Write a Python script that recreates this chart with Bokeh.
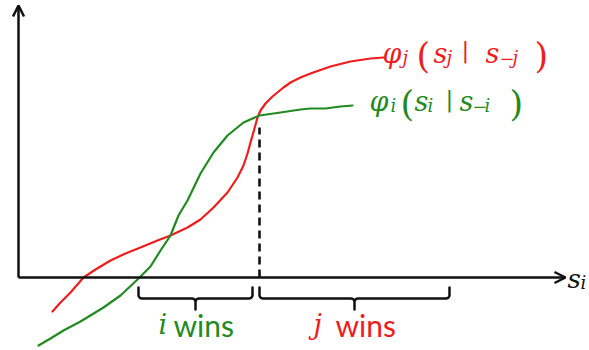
import numpy as np
from bokeh.plotting import figure
from bokeh.models import Range1d, Arrow, OpenHead, ColumnDataSource
from bokeh.embed import file_html
from bokeh.resources import INLINE

# ---- data (diagram units: origin at the axes' corner, y upward) ----
red_x = [34, 42, 52, 65, 77, 92, 107, 122, 139, 152, 169, 182, 195, 209, 219,
         225, 229, 232, 236, 239, 242, 247, 254, 265, 272, 282, 292, 312, 332, 352, 365]
red_y = [-34, -25, -15, 0, 8, 17, 24, 30, 37, 42, 50, 58, 70, 85, 100,
         112, 124, 135, 149, 160, 167, 174, 181, 190, 195, 200, 204, 211, 216, 219, 220]

green_x = [20, 32, 45, 62, 85, 102, 119, 132, 142, 152, 160, 169, 182, 195, 209,
           225, 241, 262, 282, 292, 307, 322, 334]
green_y = [-68, -61, -53, -44, -30, -18, -2, 11, 27, 42, 62, 77, 104, 125, 142,
           155, 162, 165, 168, 169, 169, 171, 172]

s_star = 241          # crossing point of the two curves
s_star_y = 150        # top of the dashed drop line
i_wins = (120, 234)   # range of s_i where i wins
j_wins = (241, 431)   # range of s_i where j wins

RED = "#EE1C1C"
GREEN = "#218A21"
BLACK = "#111111"

p = figure(width=589, height=350, x_range=Range1d(-18, 571), y_range=Range1d(-73, 277),
           output_backend="svg", toolbar_location=None, min_border=0,
           x_axis_type=None, y_axis_type=None)
p.grid.visible = False
p.outline_line_color = None
p.background_fill_color = "white"
p.border_fill_color = "white"

# axes with arrow heads
p.add_layout(Arrow(end=OpenHead(size=11, line_width=2.5, line_color=BLACK),
                   x_start=0, y_start=0, x_end=547, y_end=0,
                   line_width=2.5, line_color=BLACK))
p.add_layout(Arrow(end=OpenHead(size=11, line_width=2.5, line_color=BLACK),
                   x_start=0, y_start=0, x_end=0, y_end=272,
                   line_width=2.5, line_color=BLACK))

# curves
p.line(red_x, red_y, line_width=2.2, line_color=RED, line_join="round", line_cap="round")
p.line(green_x, green_y, line_width=2.2, line_color=GREEN, line_join="round", line_cap="round")

# dashed drop line
p.line([s_star, s_star], [0, s_star_y], line_width=2.6, line_color=BLACK, line_dash="8 5")


def brace(x0, x1, ytop=-10, ybar=-21, ytip=-32, r=3.5):
    xc = (x0 + x1) / 2.0
    xs, ys = [x0], [ytop]
    a = np.linspace(np.pi, 1.5 * np.pi, 6)
    xs += list(x0 + r + r * np.cos(a)); ys += list(ybar + r + r * np.sin(a))
    a = np.linspace(0.5 * np.pi, 0, 6)
    xs += list(xc - r + r * np.cos(a)); ys += list(ybar - r + r * np.sin(a))
    xs += [xc, xc]; ys += [ytip, ybar - r]
    a = np.linspace(np.pi, 0.5 * np.pi, 6)
    xs += list(xc + r + r * np.cos(a)); ys += list(ybar - r + r * np.sin(a))
    a = np.linspace(1.5 * np.pi, 2 * np.pi, 6)
    xs += list(x1 - r + r * np.cos(a)); ys += list(ybar + r + r * np.sin(a))
    xs += [x1]; ys += [ytop]
    return xs, ys


for rng in (i_wins, j_wins):
    bx, by = brace(*rng)
    p.line(bx, by, line_width=2.5, line_color=BLACK, line_join="round", line_cap="round")

# ---- text pieces ----
SERIF = "DejaVu Serif"
SANS = "Lato"
M, S, P, B = "27px", "18px", "35px", "23px"
dy = 9  # baseline correction
pieces = [
    # text, x, y, size, font, style, color
    ("φ", 364, 215, M, SERIF, "italic", RED),
    ("j", 384, 211, S, SERIF, "italic", RED),
    ("(", 398, 213, P, SERIF, "normal", RED),
    ("s", 415, 215, M, SERIF, "italic", RED),
    ("j", 428, 211, S, SERIF, "italic", RED),
    ("|", 443, 219, B, SERIF, "normal", RED),
    ("s", 467, 215, M, SERIF, "italic", RED),
    ("−", 481, 211, S, SERIF, "normal", RED),
    ("j", 494, 211, S, SERIF, "italic", RED),
    (")", 516, 213, P, SERIF, "normal", RED),

    ("φ", 351, 167, M, SERIF, "italic", GREEN),
    ("i", 372, 163, S, SERIF, "italic", GREEN),
    ("(", 382, 165, P, SERIF, "normal", GREEN),
    ("s", 396, 167, M, SERIF, "italic", GREEN),
    ("i", 409, 163, S, SERIF, "italic", GREEN),
    ("|", 427, 170, B, SERIF, "normal", GREEN),
    ("s", 441, 167, M, SERIF, "italic", GREEN),
    ("−", 454, 163, S, SERIF, "normal", GREEN),
    ("i", 466, 163, S, SERIF, "italic", GREEN),
    (")", 491, 165, P, SERIF, "normal", GREEN),

    ("i", 140, -56, "27px", SERIF, "italic", GREEN),
    ("wins", 155, -56, "30px", SANS, "normal", GREEN),
    ("j", 295, -56, "27px", SERIF, "italic", RED),
    ("wins", 317, -56, "30px", SANS, "normal", RED),

    ("s", 549, -10, "26px", SERIF, "italic", BLACK),
    ("i", 562, -14, "18px", SERIF, "italic", BLACK),
]

src = ColumnDataSource(dict(
    text=[q[0] for q in pieces],
    x=[q[1] for q in pieces],
    y=[q[2] + dy for q in pieces],
    size=[q[3] for q in pieces],
    font=[q[4] for q in pieces],
    style=[q[5] for q in pieces],
    color=[q[6] for q in pieces],
))
p.text(x="x", y="y", text="text", source=src, text_font="font", text_font_size="size",
       text_font_style="style", text_color="color", text_align="left",
       text_baseline="alphabetic")

open("out.html", "w").write(file_html(p, INLINE))
